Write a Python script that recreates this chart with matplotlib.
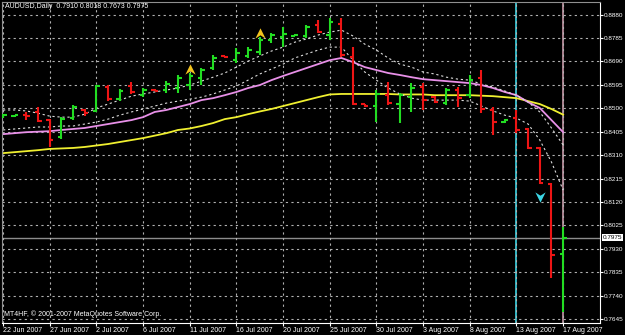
import matplotlib
matplotlib.use('Agg')
import matplotlib.pyplot as plt
import numpy as np
from matplotlib.path import Path
from matplotlib.transforms import blended_transform_factory

# DATA (AUDUSD daily, one entry per bar incl. Sunday bars)
opens = [0.8464, 0.8468, 0.8472, 0.8485, 0.8452, 0.8383, 0.8460, 0.8493, 0.8489, 0.8586,
         0.8537, 0.8590, 0.8553, 0.8576, 0.8574, 0.8582, 0.8594, 0.8622, 0.8663, 0.8710,
         0.8695, 0.8712, 0.8728, 0.8777, 0.8789, 0.8795, 0.8793, 0.8837, 0.8797, 0.8842,
         0.8708, 0.8517, 0.8509, 0.8553, 0.8517, 0.8545, 0.8586, 0.8545, 0.8521, 0.8574,
         0.8553, 0.8622, 0.8493, 0.8444, 0.8460, 0.8416, 0.8339, 0.8192, 0.7910]
highs = [0.8476, 0.8474, 0.8485, 0.8505, 0.8456, 0.8464, 0.8513, 0.8497, 0.8594, 0.8594,
         0.8578, 0.8606, 0.8582, 0.8578, 0.8610, 0.8635, 0.8643, 0.8663, 0.8716, 0.8712,
         0.8744, 0.8748, 0.8789, 0.8805, 0.8829, 0.8801, 0.8837, 0.8858, 0.8866, 0.8866,
         0.8748, 0.8517, 0.8574, 0.8606, 0.8562, 0.8602, 0.8602, 0.8549, 0.8582, 0.8586,
         0.8635, 0.8655, 0.8505, 0.8456, 0.8493, 0.8420, 0.8343, 0.8196, 0.8018]
lows = [0.8460, 0.8464, 0.8452, 0.8444, 0.8343, 0.8375, 0.8452, 0.8468, 0.8485, 0.8529,
        0.8529, 0.8558, 0.8545, 0.8570, 0.8562, 0.8562, 0.8574, 0.8594, 0.8655, 0.8704,
        0.8683, 0.8704, 0.8716, 0.8764, 0.8748, 0.8793, 0.8785, 0.8805, 0.8777, 0.8708,
        0.8513, 0.8505, 0.8444, 0.8513, 0.8440, 0.8485, 0.8493, 0.8521, 0.8513, 0.8505,
        0.8541, 0.8480, 0.8391, 0.8440, 0.8399, 0.8335, 0.8192, 0.7811, 0.7673]
closes = [0.8472, 0.8472, 0.8468, 0.8448, 0.8371, 0.8456, 0.8505, 0.8480, 0.8590, 0.8537,
          0.8570, 0.8566, 0.8574, 0.8572, 0.8598, 0.8622, 0.8631, 0.8655, 0.8704, 0.8706,
          0.8724, 0.8736, 0.8777, 0.8797, 0.8801, 0.8799, 0.8829, 0.8809, 0.8850, 0.8716,
          0.8517, 0.8509, 0.8558, 0.8521, 0.8553, 0.8582, 0.8533, 0.8525, 0.8574, 0.8541,
          0.8614, 0.8497, 0.8444, 0.8452, 0.8412, 0.8339, 0.8196, 0.7904, 0.7975]

# indicator lines, one value per bar
ma_slow = [0.8318, 0.8322, 0.8326, 0.8330, 0.8335, 0.8337, 0.8339, 0.8343, 0.8349, 0.8355,
           0.8363, 0.8371, 0.8379, 0.8389, 0.8399, 0.8412, 0.8418, 0.8428, 0.8440, 0.8456,
           0.8464, 0.8476, 0.8487, 0.8497, 0.8509, 0.8521, 0.8533, 0.8545, 0.8556, 0.8558,
           0.8558, 0.8558, 0.8558, 0.8558, 0.8556, 0.8556, 0.8556, 0.8553, 0.8553, 0.8553,
           0.8553, 0.8551, 0.8549, 0.8545, 0.8541, 0.8529, 0.8517, 0.8497, 0.8474]
ma_mid = [0.8395, 0.8399, 0.8403, 0.8405, 0.8407, 0.8412, 0.8416, 0.8420, 0.8428, 0.8436,
          0.8444, 0.8452, 0.8464, 0.8485, 0.8493, 0.8505, 0.8517, 0.8533, 0.8541, 0.8553,
          0.8566, 0.8582, 0.8594, 0.8614, 0.8631, 0.8647, 0.8663, 0.8679, 0.8695, 0.8704,
          0.8687, 0.8667, 0.8655, 0.8643, 0.8635, 0.8626, 0.8618, 0.8614, 0.8610, 0.8606,
          0.8602, 0.8594, 0.8582, 0.8566, 0.8553, 0.8525, 0.8501, 0.8452, 0.8403]
dot_upper = [0.8493, 0.8493, 0.8489, 0.8480, 0.8468, 0.8464, 0.8464, 0.8476, 0.8501, 0.8517,
             0.8533, 0.8549, 0.8558, 0.8566, 0.8574, 0.8582, 0.8594, 0.8610, 0.8626, 0.8643,
             0.8667, 0.8691, 0.8712, 0.8732, 0.8748, 0.8768, 0.8781, 0.8797, 0.8809, 0.8817,
             0.8793, 0.8760, 0.8736, 0.8704, 0.8679, 0.8667, 0.8647, 0.8639, 0.8626, 0.8618,
             0.8614, 0.8598, 0.8586, 0.8570, 0.8553, 0.8525, 0.8485, 0.8420, 0.8351]
dot_lower = [0.8412, 0.8416, 0.8420, 0.8424, 0.8424, 0.8428, 0.8428, 0.8436, 0.8444, 0.8456,
             0.8472, 0.8485, 0.8497, 0.8509, 0.8521, 0.8529, 0.8537, 0.8545, 0.8558, 0.8574,
             0.8590, 0.8614, 0.8639, 0.8659, 0.8679, 0.8704, 0.8720, 0.8736, 0.8748, 0.8748,
             0.8695, 0.8647, 0.8614, 0.8582, 0.8558, 0.8541, 0.8533, 0.8533, 0.8533, 0.8533,
             0.8529, 0.8509, 0.8489, 0.8472, 0.8460, 0.8436, 0.8371, 0.8282, 0.8168]

date_labels = ['22 Jun 2007', '27 Jun 2007', '2 Jul 2007', '6 Jul 2007', '11 Jul 2007',
               '16 Jul 2007', '20 Jul 2007', '25 Jul 2007', '30 Jul 2007', '3 Aug 2007',
               '8 Aug 2007', '13 Aug 2007', '17 Aug 2007']
date_bars = [0, 4, 8, 12, 16, 20, 24, 28, 32, 36, 40, 44, 48]
price_ticks = [0.7645, 0.7740, 0.7835, 0.7930, 0.8025, 0.8120, 0.8215,
               0.8310, 0.8405, 0.8500, 0.8595, 0.8690, 0.8785, 0.8880]

up_arrow_bars = [16, 22]
up_arrow_prices = [0.8661, 0.8807]
down_arrow_bars = [46]
down_arrow_prices = [0.8142]
cyan_line_bar = 44
now_line_bar = 48
bid_price = 0.7975

title = 'AUDUSD,Daily  0.7910 0.8018 0.7673 0.7975'
copyright_text = 'MT4HF, \u00a9 2001-2007 MetaQuotes Software Corp.'

UP_COLOR = '#22dd22'
DOWN_COLOR = '#ee1515'
GRID_COLOR = '#b0b0b0'
LABEL_SIZE = 4.6

plt.rcParams['font.family'] = ['Liberation Sans', 'DejaVu Sans']

fig = plt.figure(figsize=(6.25, 3.35), dpi=100, facecolor='black')
ax = fig.add_axes([2 / 625, 12 / 335, 598 / 625, 321 / 335])
ax.set_facecolor('black')

x = np.arange(len(opens))
o = np.array(opens)
c = np.array(closes)
colors = np.where(c >= o, UP_COLOR, DOWN_COLOR)

# grid
ax.set_xticks(date_bars)
ax.set_yticks(price_ticks)
ax.grid(True, color=GRID_COLOR, linestyle=(0, (2, 3)), linewidth=0.8, zorder=0)

# vertical markers and bid line
ax.axvline(cyan_line_bar, color='#3cd6e6', linewidth=1.2, zorder=1)
ax.axvline(now_line_bar, color='#c898a8', linewidth=1.2, zorder=1)
ax.axhline(bid_price, color='#8c8c8c', linewidth=1.0, zorder=1)

# indicators
ax.plot(x, ma_slow, color='#f0f030', linewidth=1.3, zorder=2)
ax.plot(x, ma_mid, color='#e890e8', linewidth=1.3, zorder=2)
ax.plot(x, dot_upper, color='#dcdcdc', linewidth=0.8, linestyle=(0, (2, 2.5)), zorder=2)
ax.plot(x, dot_lower, color='#dcdcdc', linewidth=0.8, linestyle=(0, (2, 2.5)), zorder=2)

# OHLC bars
tick = 0.3
ax.vlines(x, lows, highs, colors=colors, linewidth=1.5, zorder=3)
ax.hlines(opens, x - tick, x, colors=colors, linewidth=1.5, zorder=3)
ax.hlines(closes, x, x + tick, colors=colors, linewidth=1.5, zorder=3)

# signal arrows
up_arrow = Path([(0, 1), (1, -1), (0, -0.35), (-1, -1), (0, 1)],
                [Path.MOVETO, Path.LINETO, Path.LINETO, Path.LINETO, Path.CLOSEPOLY])
down_arrow = Path([(0, -1), (1, 1), (0, 0.35), (-1, 1), (0, -1)],
                  [Path.MOVETO, Path.LINETO, Path.LINETO, Path.LINETO, Path.CLOSEPOLY])
ax.scatter(up_arrow_bars, up_arrow_prices, marker=up_arrow, s=55, color='#f2c21e',
           linewidths=0, zorder=4)
ax.scatter(down_arrow_bars, down_arrow_prices, marker=down_arrow, s=55, color='#3cd6e6',
           linewidths=0, zorder=4)

ax.set_xlim(-0.09, 51.16)
ax.set_ylim(0.7629, 0.8931)

# axes styling
ax.yaxis.tick_right()
ax.set_yticklabels([f'{p:.4f}' for p in price_ticks])
ax.set_xticklabels(date_labels)
for lbl in ax.get_xticklabels():
    lbl.set_horizontalalignment('left')
ax.tick_params(axis='both', colors='white', labelsize=LABEL_SIZE, length=2, width=0.8,
               direction='out', pad=1)
ax.tick_params(axis='x', labelsize=5.0)
ax.tick_params(axis='y', pad=0.8)
for side in ['right', 'bottom']:
    ax.spines[side].set_color('white')
for side in ['left', 'top']:
    ax.spines[side].set_color('#909090')

# current price label
trans = blended_transform_factory(ax.transAxes, ax.transData)
ax.text(1.0045, bid_price, f'{bid_price:.4f}', transform=trans, fontsize=LABEL_SIZE,
        color='black', va='center', ha='left', clip_on=False, zorder=5,
        bbox=dict(boxstyle='square,pad=0.15', facecolor='white', edgecolor='none'))

fig.text(5 / 625, 1 - 7 / 335, title, color='white', fontsize=5.0, va='center', ha='left')
fig.text(4 / 625, 1 - 314 / 335, copyright_text, color='white', fontsize=5.0,
         va='center', ha='left')

fig.savefig('out.png', dpi=100, facecolor='black')
